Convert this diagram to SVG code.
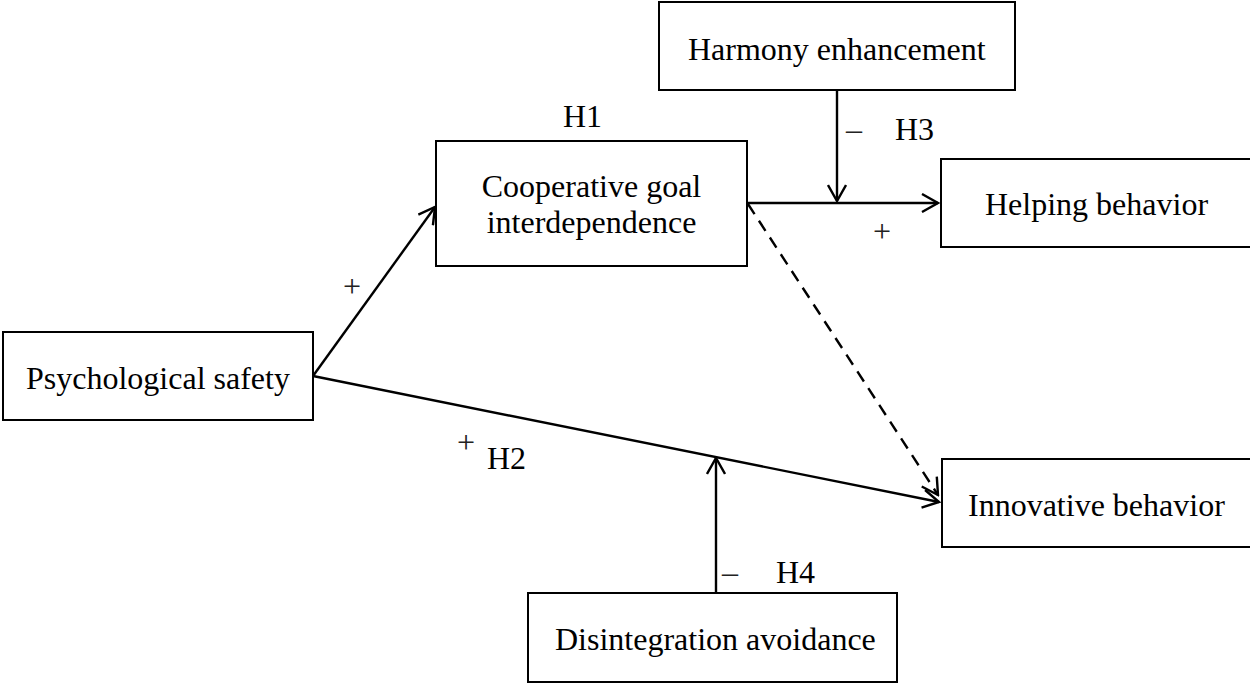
<svg xmlns="http://www.w3.org/2000/svg" width="1250" height="683" viewBox="0 0 1250 683">
<style>
.box{fill:#fff;stroke:#000;stroke-width:2}
.t{font-family:"Liberation Serif","Times New Roman",serif;font-size:32px;fill:#000}
.s{font-family:"Liberation Serif","Times New Roman",serif;font-size:32px;fill:#222}
.ln{fill:none;stroke:#000;stroke-width:2.4}
.dash{stroke-dasharray:12,8}
</style>
<defs>
<marker id="arr" viewBox="0 0 20 20" refX="18" refY="10" markerWidth="20" markerHeight="20" markerUnits="userSpaceOnUse" orient="auto">
<path d="M2,1 L18,10 L2,19" fill="none" stroke="#000" stroke-width="2.4"/>
</marker>
</defs>
<g id="connectors">
<line class="ln" x1="313" y1="376" x2="435" y2="207" marker-end="url(#arr)"/>
<line class="ln" x1="313" y1="376" x2="939" y2="502" marker-end="url(#arr)"/>
<line class="ln" x1="748" y1="203" x2="938" y2="203" marker-end="url(#arr)"/>
<line class="ln dash" x1="748" y1="204" x2="938" y2="495" marker-end="url(#arr)"/>
<line class="ln" x1="837" y1="91" x2="837" y2="201" marker-end="url(#arr)"/>
<line class="ln" x1="716" y1="593" x2="716" y2="458" marker-end="url(#arr)"/>
</g>
<g id="psych">
<rect class="box" x="3" y="332" width="310" height="88"/>
<text class="t" x="26" y="389">Psychological safety</text>
</g>
<g id="coop">
<rect class="box" x="436" y="141" width="311" height="125"/>
<text class="t" x="591.5" y="197" text-anchor="middle">Cooperative goal</text>
<text class="t" x="591.5" y="233" text-anchor="middle">interdependence</text>
</g>
<g id="harmony">
<rect class="box" x="659" y="2" width="356" height="88"/>
<text class="t" x="688" y="60">Harmony enhancement</text>
</g>
<g id="helping">
<rect class="box" x="941" y="159" width="312" height="88"/>
<text class="t" x="985" y="215">Helping behavior</text>
</g>
<g id="innovative">
<rect class="box" x="942" y="459" width="311" height="88"/>
<text class="t" x="968" y="516">Innovative behavior</text>
</g>
<g id="disintegration">
<rect class="box" x="528" y="593" width="369" height="89"/>
<text class="t" x="555" y="650">Disintegration avoidance</text>
</g>
<g id="labels">
<text class="t" x="563" y="127">H1</text>
<text class="s" x="846" y="140">–</text>
<text class="t" x="895" y="140">H3</text>
<text class="s" x="873" y="242">+</text>
<text class="s" x="343" y="297">+</text>
<text class="s" x="457" y="453">+</text>
<text class="t" x="487" y="469">H2</text>
<text class="s" x="722" y="583">–</text>
<text class="t" x="776" y="583">H4</text>
</g>
</svg>
